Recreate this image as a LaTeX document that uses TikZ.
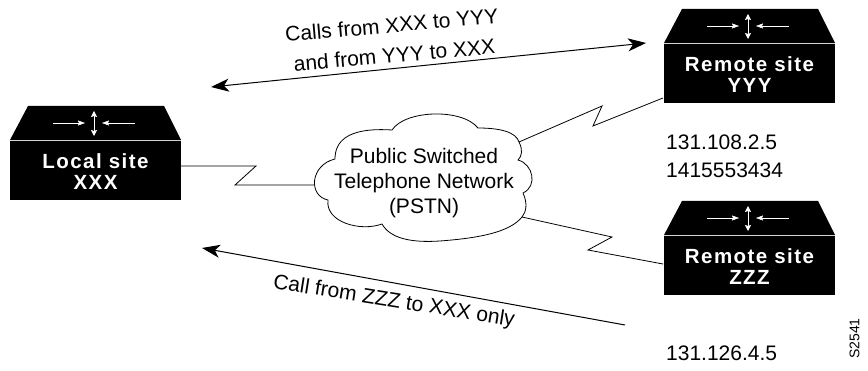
\documentclass[tikz,border=0pt]{standalone}
\usepackage{fontspec}
\setmainfont{Liberation Sans}
\newfontfamily\boxfont[LetterSpace=7]{Liberation Sans Bold}
\usetikzlibrary{arrows.meta}
\tikzset{
  x=1pt,y=-1pt,
  link/.style={draw=black,line width=0.8pt,line join=miter},
  flow/.style={draw=black,line width=1pt,{Stealth[length=18pt,width=13pt,inset=5pt]}-{Stealth[length=18pt,width=13pt,inset=5pt]}},
  oneflow/.style={draw=black,line width=1pt,{Stealth[length=18pt,width=13pt,inset=5pt]}-},
  lbl/.style={font=\fontsize{21}{25}\selectfont,align=center,inner sep=0pt},
  lblwide/.style={font=\fontsize{21}{30}\selectfont,align=center,inner sep=0pt},
  addr/.style={font=\fontsize{21}{25}\selectfont,anchor=base west,inner sep=0pt},
  boxlbl/.style={font=\boxfont\fontsize{20.5}{21}\selectfont,text=white,align=center,inner sep=0pt},
  icon/.style={draw=white,line width=0.5pt,-{Stealth[length=7pt,width=5pt,inset=1pt]}},
  vicon/.style={draw=white,line width=0.8pt,{Stealth[length=6pt,width=6pt,inset=1pt]}-{Stealth[length=6pt,width=6pt,inset=1pt]}},
}
\newcommand{\sitebox}[4]{% name, x left, y top, text
  \begin{scope}[shift={(#2,#3)}]
    \fill[black] (18,0) -- (154,0) -- (171,34) -- (0,34) -- cycle;
    \fill[black] (0,35) rectangle (171,94);
    \draw[gray!35,line width=0.7pt] (0,34.5) -- (171,34.5);
    \draw[icon] (43,17) -- (75,17);
    \draw[icon] (125,17) -- (92,17);
    \draw[vicon] (84,5) -- (84,30);
    \node[boxlbl] (#1) at (85.5,66) {#4};
  \end{scope}
}
\begin{document}
\begin{tikzpicture}
\useasboundingbox (0,0) rectangle (868,371);
\sitebox{local}{10}{106}{Local site\\XXX}
\sitebox{yyy}{664}{9}{Remote site\\YYY}
\sitebox{zzz}{664}{201}{Remote site\\ZZZ}
\coordinate (ca) at (181,166);
\coordinate (cb) at (314,185);
\coordinate (cc) at (519,142);
\coordinate (cd) at (663,98);
\coordinate (ce) at (522,217);
\coordinate (cf) at (663,264);
\draw[fill=white,line width=0.8pt] (335,159)
  .. controls (335,143) and (345,127) .. (392,130)
  .. controls (405,110) and (462,108) .. (478,128)
  .. controls (500,128) and (516,132) .. (519,142)
  .. controls (523,150) and (522,156) .. (518,160)
  .. controls (533,164) and (538,186) .. (523,193)
  .. controls (528,204) and (526,212) .. (522,217)
  .. controls (510,232) and (480,238) .. (440,241)
  .. controls (410,243) and (390,238) .. (382,224)
  .. controls (360,232) and (325,222) .. (328,200)
  .. controls (308,196) and (310,165) .. (335,159) -- cycle;
\node[lbl] (pstn) at (424,183) {Public Switched\\Telephone Network\\(PSTN)};
\draw[link] (ca) -- (256,166) -- (235,185) -- (cb);
\draw[link] (cc) -- (602,106) -- (593,126) -- (cd);
\draw[link] (ce) -- (612,237) -- (588,250) -- (cf);
\coordinate (fa) at (211,87);
\coordinate (fb) at (646,43);
\draw[flow] (fa) -- (fb);
\coordinate (ga) at (202,248);
\coordinate (gb) at (625,325);
\draw[oneflow] (ga) -- (gb);
\node[lblwide,rotate=5] (t1) at (393,40) {Calls from XXX to YYY\\and from YYY to XXX};
\node[lbl,rotate=-9,anchor=center] (t2) at (394,302) {Call from ZZZ to XXX only};
\node[addr] (a1) at (666,150) {131.108.2.5};
\node[addr] (a2) at (666,178) {1415553434};
\node[addr] (a3) at (666,361) {131.126.4.5};
\node[font=\fontsize{14}{14}\selectfont,rotate=90,inner sep=0pt] (s) at (854.5,338.5) {S2541};
\end{tikzpicture}
\end{document}
